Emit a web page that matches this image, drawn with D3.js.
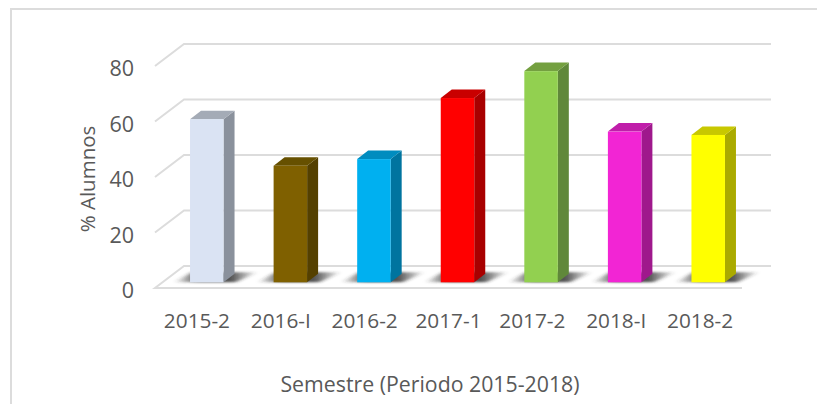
<!DOCTYPE html>
<html lang="es">
<head>
<meta charset="utf-8">
<title>% Alumnos por semestre</title>
<script src="https://cdnjs.cloudflare.com/ajax/libs/d3/7.8.5/d3.min.js"></script>
<style>
html,body{margin:0;padding:0;background:#fff;}
svg{display:block;}
text{font-family:"Open Sans",Lato,sans-serif;fill:#595959;}
.grid{stroke:#dcdcdc;stroke-width:2;fill:none;}
.tick-y{font-size:21.5px;text-anchor:end;}
.tick-x{font-size:20.8px;text-anchor:middle;}
.title{font-size:21.3px;text-anchor:middle;}
.ytitle{font-size:20.5px;text-anchor:middle;}
</style>
</head>
<body>
<svg></svg>
<script>
var categories=["2015-2","2016-I","2016-2","2017-1","2017-2","2018-I","2018-2"];
var values=[58.8,42,44.4,66.4,76.1,54.3,53.1];
var faceColors=["#dae3f3","#7f6000","#00b0f0","#ff0000","#92d050","#f225d4","#ffff00"];
var sideColors=["#8a919c","#544000","#00749f","#a80000","#60883a","#9f188c","#aaaa00"];
var topColors=["#a4abb6","#665000","#008cbf","#c90000","#74a040","#c01eaa","#c8c800"];
var yTicks=[0,20,40,60,80];

var width=817,height=404;
var svg=d3.select("svg").attr("width",width).attr("height",height);

var yscale=d3.scaleLinear().domain([0,80]).range([288,66]);
var xscale=d3.scaleBand().domain(categories).range([155,742]);
var barX=d3.scaleBand().domain(categories).range([165,750]);
var barW=33.5, depthX=11, depthY=8.5;
var backX=29, backY=-22;
var barBase=282.3;
var h=function(v){return yscale(0)-yscale(v);};

var defs=svg.append("defs");
defs.append("filter").attr("id","soft").attr("x","-20%").attr("y","-60%").attr("width","140%").attr("height","220%")
    .append("feGaussianBlur").attr("stdDeviation","2.4 1.1");
var grad=defs.append("linearGradient").attr("id","shade");
grad.append("stop").attr("offset","0").attr("stop-color","#333").attr("stop-opacity",0);
grad.append("stop").attr("offset","0.3").attr("stop-color","#333").attr("stop-opacity",0.85);
grad.append("stop").attr("offset","0.68").attr("stop-color","#333").attr("stop-opacity",0.85);
grad.append("stop").attr("offset","1").attr("stop-color","#333").attr("stop-opacity",0);

// chart border, only left and top are in the picture
svg.append("path").attr("class","grid").attr("d","M11,404V9H817");

// gridlines
var lines=d3.line();
svg.selectAll("path.gl").data(yTicks).enter().append("path").attr("class","grid gl")
   .attr("d",function(d){
     var y=yscale(d);
     if(d===0){
       return lines([[742,y],[155,y],[155+backX,y+backY],[742+backX,y+backY]]);
     }
     return lines([[155,y],[155+backX,y+backY],[742+backX,y+backY]]);
   });

// floor shadows
svg.selectAll("polygon.shadow").data(categories).enter().append("polygon").attr("class","shadow")
   .attr("fill","url(#shade)").attr("filter","url(#soft)")
   .attr("points",function(d){
     var x=barX(d)+(barX.bandwidth()-barW)/2;
     return [[x-16,barBase],[x+barW+12,barBase],[x+barW+34,barBase-10],[x+2,barBase-10]].join(" ");
   });

// bars
var bar=svg.selectAll("g.bar").data(categories).enter().append("g").attr("class","bar")
   .attr("transform",function(d){return "translate("+(barX(d)+(barX.bandwidth()-barW)/2)+","+barBase+")";});
bar.append("polygon").attr("fill",function(d,i){return sideColors[i];})
   .attr("points",function(d,i){
     var t=-h(values[i]);
     return [[barW,0],[barW+depthX,-depthY],[barW+depthX,t-depthY],[barW,t]].join(" ");
   });
bar.append("polygon").attr("fill",function(d,i){return topColors[i];})
   .attr("points",function(d,i){
     var t=-h(values[i]);
     return [[0,t],[depthX,t-depthY],[barW+depthX,t-depthY],[barW,t]].join(" ");
   });
bar.append("rect").attr("fill",function(d,i){return faceColors[i];})
   .attr("x",0).attr("width",barW)
   .attr("y",function(d,i){return -h(values[i]);})
   .attr("height",function(d,i){return h(values[i]);});

// axis labels
svg.selectAll("text.tick-y").data(yTicks).enter().append("text").attr("class","tick-y")
   .attr("x",134).attr("y",function(d){return yscale(d)+10;}).text(function(d){return d;});
svg.selectAll("text.tick-x").data(categories).enter().append("text").attr("class","tick-x")
   .attr("x",function(d){return xscale(d)+xscale.bandwidth()/2;}).attr("y",328).text(function(d){return d;});
svg.append("text").attr("class","title").attr("x",430).attr("y",392).text("Semestre (Periodo 2015-2018)");
svg.append("text").attr("class","ytitle").attr("transform","translate(95,179) rotate(-90)").text("% Alumnos");
</script>
</body>
</html>
